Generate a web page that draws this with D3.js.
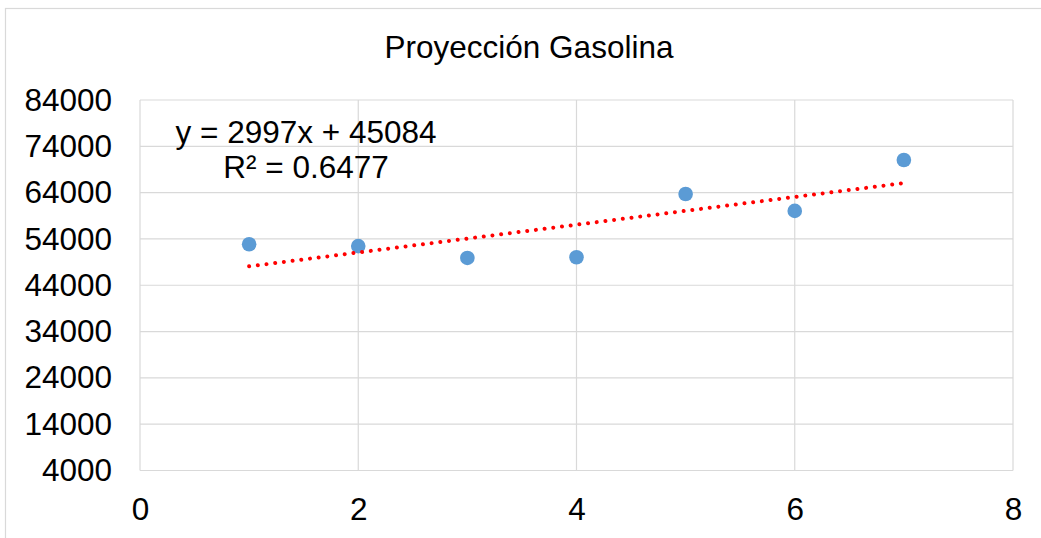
<!DOCTYPE html>
<html>
<head>
<meta charset="utf-8">
<script src="https://cdn.jsdelivr.net/npm/d3@7"></script>
<style>
  html, body { margin: 0; padding: 0; background: #fff; }
  svg { display: block; }
  text { font-family: "Liberation Sans", Arial, sans-serif; fill: #000; }
</style>
</head>
<body>
<svg id="chart" width="1041" height="538"></svg>
<script>
// Data
const title = "Proyección Gasolina";
const xValues = [1, 2, 3, 4, 5, 6, 7];
const yValues = [52850, 52450, 49900, 50050, 63700, 60050, 71050];
const xTicks = [0, 2, 4, 6, 8];
const yTicks = [4000, 14000, 24000, 34000, 44000, 54000, 64000, 74000, 84000];
const trendSlope = 2997;
const trendIntercept = 45084;
const trendLabel = ["y = 2997x + 45084", "R² = 0.6477"];

const svg = d3.select("#chart");
const W = 1041, H = 538;
const plot = { left: 140, right: 1013, top: 100, bottom: 470.5 };
const fontSize = 31.5;

// outer chart border
svg.append("rect")
  .attr("x", 5.5).attr("y", 8.5)
  .attr("width", W + 10).attr("height", H + 10)
  .attr("fill", "#fff").attr("stroke", "#d9d9d9").attr("stroke-width", 1.2);

const x = d3.scaleLinear().domain([0, 8]).range([plot.left, plot.right]);
const y = d3.scaleLinear().domain([4000, 84000]).range([plot.bottom, plot.top]);

// gridlines
const grid = svg.append("g").attr("stroke", "#d9d9d9").attr("stroke-width", 1.2);
grid.selectAll("line.h").data(yTicks).join("line")
  .attr("x1", plot.left).attr("x2", plot.right)
  .attr("y1", d => y(d)).attr("y2", d => y(d));
grid.selectAll("line.v").data(xTicks).join("line")
  .attr("y1", plot.top).attr("y2", plot.bottom)
  .attr("x1", d => x(d)).attr("x2", d => x(d));

// y axis labels
const yAxis = d3.axisLeft(y).tickValues(yTicks).tickSize(0).tickPadding(28).tickFormat(d3.format("d"));
const gy = svg.append("g").attr("transform", `translate(${plot.left},0)`).call(yAxis);
gy.select(".domain").remove();
gy.selectAll("text").style("font-size", fontSize + "px").style("font-family", "'Liberation Sans', Arial, sans-serif").attr("fill", "#000");

// x axis labels
const xAxis = d3.axisBottom(x).tickValues(xTicks).tickSize(0).tickPadding(27).tickFormat(d3.format("d"));
const gx = svg.append("g").attr("transform", `translate(0,${plot.bottom})`).call(xAxis);
gx.select(".domain").remove();
gx.selectAll("text").style("font-size", fontSize + "px").style("font-family", "'Liberation Sans', Arial, sans-serif").attr("fill", "#000");

// points
const data = xValues.map((v, i) => ({ x: v, y: yValues[i] }));
svg.append("g").selectAll("circle").data(data).join("circle")
  .attr("cx", d => x(d.x)).attr("cy", d => y(d.y)).attr("r", 7.3)
  .attr("fill", "#5B9BD5");

// trendline
const xMin = d3.min(xValues), xMax = d3.max(xValues);
const trend = [xMin, xMax].map(v => ({ x: v, y: trendSlope * v + trendIntercept }));
svg.append("path")
  .datum(trend)
  .attr("d", d3.line().x(d => x(d.x)).y(d => y(d.y)))
  .attr("fill", "none").attr("stroke", "#ff0000").attr("stroke-width", 4)
  .attr("stroke-linecap", "round").attr("stroke-dasharray", "0.01 8.75");

// trend label
const lbl = svg.append("text").attr("text-anchor", "middle").style("font-size", fontSize + "px");
trendLabel.forEach((t, i) => {
  lbl.append("tspan").attr("x", 306).attr("y", 143.3 + i * 35).text(t);
});

// title
svg.append("text").attr("x", 529).attr("y", 58.3).attr("text-anchor", "middle")
  .style("font-size", fontSize + "px").text(title);
</script>
</body>
</html>
